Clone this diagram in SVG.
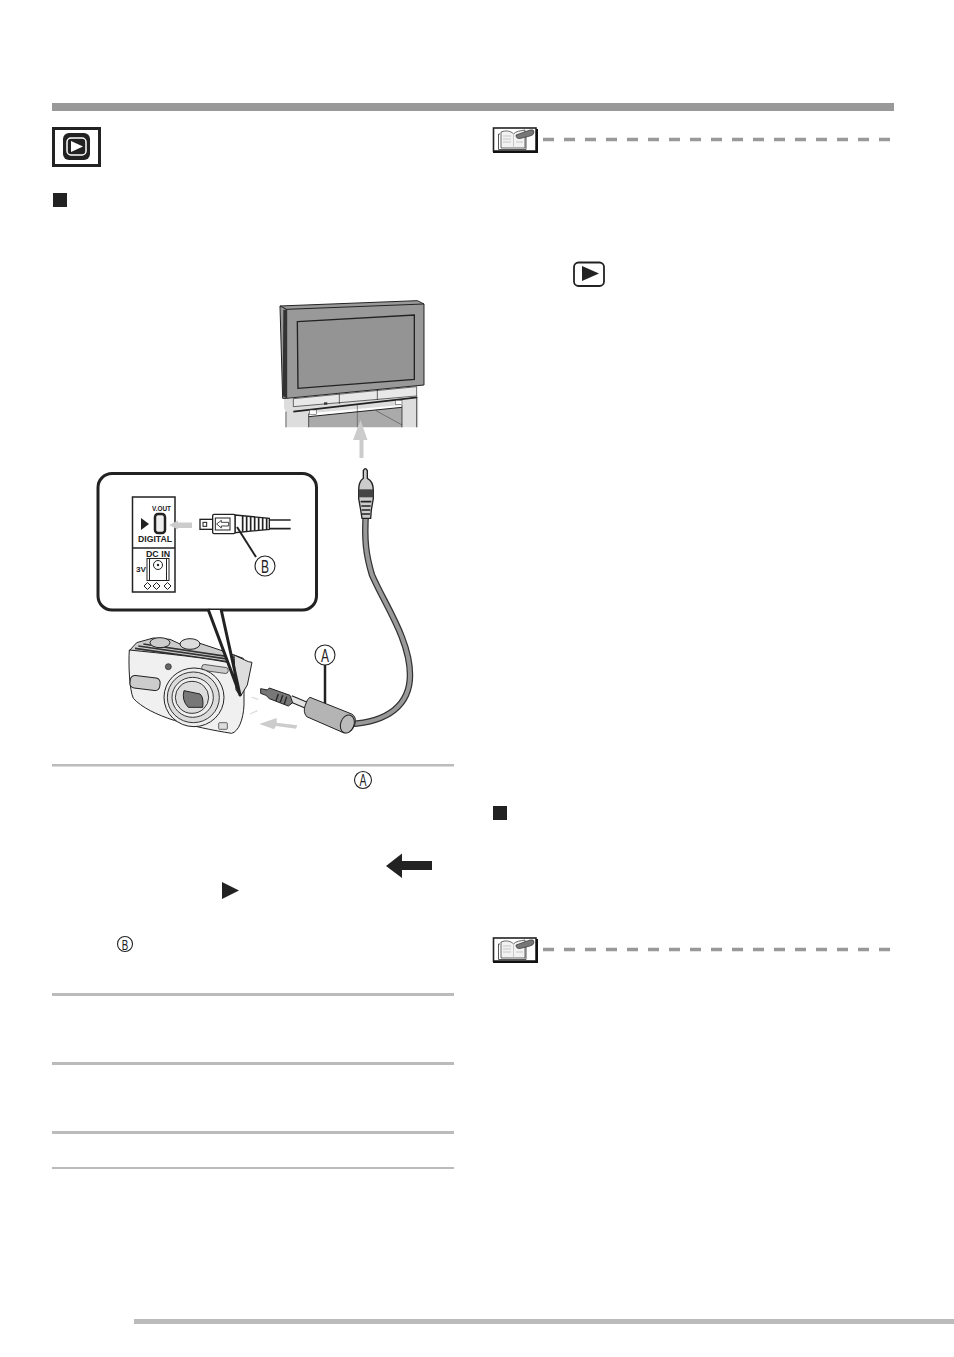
<svg xmlns="http://www.w3.org/2000/svg" width="954" height="1357" viewBox="0 0 954 1357">
<style>
text{font-family:"Liberation Sans",Arial,sans-serif;fill:#222}
.b{font-weight:700}
.lab{font-size:18px;text-anchor:middle}
.ring{fill:#fff;stroke:#222;stroke-width:1.1}
.rule{fill:#bbb}
.dash{fill:none;stroke:#999;stroke-width:3.5;stroke-dasharray:11 10}
.ga{fill:#ccc}
</style>
<defs>
<g id="book">
<rect x="1.500" y="1" width="42.500" height="23" fill="#fff" stroke="#222" stroke-width="1.600"/>
<path d="M1 25H45V2" fill="none" stroke="#111" stroke-width="2"/>
<path d="M9 5C14 3 19 4 21.500 7C24 4 28 4 33 3V21H9Z" fill="#f2f2f2" stroke="#444" stroke-width=".8"/>
<path d="M21.500 7V21M11 9H19M11 12H19M11 15H19M24 9H31M24 15H31" fill="none" stroke="#bbb" stroke-width=".8"/>
<path d="M8 7H6.500V22.500H34V7" fill="none" stroke="#444" stroke-width=".9"/>
<path d="M24 8L38 3Q42 2 42 5Q42 8 38 9L28 11.500Q24 12 24 8Z" fill="#777" stroke="#333" stroke-width=".7"/>
</g>
</defs>

<rect id="top-bar" x="52" y="103" width="842" height="8" fill="#999"/>
<rect id="bottom-bar" x="134" y="1319" width="820" height="5" fill="#bbb"/>
<g id="rules">
<rect class="rule" x="52" y="764" width="402" height="2.500"/>
<rect class="rule" x="52" y="993" width="402" height="3"/>
<rect class="rule" x="52" y="1062" width="402" height="3"/>
<rect class="rule" x="52" y="1131" width="402" height="3"/>
<rect class="rule" x="52" y="1167" width="402" height="2"/>
</g>

<g id="play-icon">
<rect x="53.500" y="128.500" width="46" height="37" fill="#fff" stroke="#222" stroke-width="3"/>
<rect x="63" y="133" width="27" height="27" rx="6" fill="#222"/>
<rect x="67" y="138" width="19" height="17" rx="4" fill="#222" stroke="#fff" stroke-width="1.500"/>
<path d="M71 141L83 146.500L71 152Z" fill="#fff"/>
</g>
<rect id="bullet-1" x="53" y="193" width="14" height="14" fill="#222"/>
<rect id="bullet-2" x="493" y="806" width="14" height="14" fill="#222"/>

<g id="note-1"><use href="#book" x="492" y="127"/><path class="dash" d="M543 139.500H890"/></g>
<g id="note-2"><use href="#book" x="492" y="937"/><path class="dash" d="M543 949.500H890"/></g>

<g id="play-button">
<rect x="574" y="262.500" width="30" height="23.500" rx="4.500" fill="#fff" stroke="#222" stroke-width="1.800"/>
<path d="M582 266L599 273.500L582 281Z" fill="#222"/>
</g>

<g id="tv" transform="translate(270 290) scale(.33333)">
<path d="M42 325H445V412H396V345L116 370V412H50V368L42 355Z" fill="#ddd"/>
<path d="M70 326L440 290V318L70 350Z" fill="#e8e8e8" stroke="#222" stroke-width="2"/>
<path d="M116 380L396 352V412H116Z" fill="#aaa"/>
<path d="M262 345V412M318 362L396 405" stroke="#555" stroke-width="2" fill="none"/>
<path d="M116 380L396 352" stroke="#222" stroke-width="3" fill="none"/>
<path d="M116 370V412M396 345V412M48 365V412M440 320V412" stroke="#333" stroke-width="2.500" fill="none"/>
<path d="M70 365L442 322" stroke="#222" stroke-width="5" fill="none"/>
<rect x="119" y="360" width="20" height="13" fill="#fff" stroke="#333" stroke-width="1.500"/>
<rect x="376" y="331" width="20" height="13" fill="#fff" stroke="#333" stroke-width="1.500"/>
<path d="M208 312V342M322 300V330" stroke="#222" stroke-width="2"/>
<rect x="162" y="337" width="10" height="7" fill="#333"/>
<path d="M30 48L442 32L462 42V285L50 325H38Z" fill="#999" stroke="#222" stroke-width="3" stroke-linejoin="round"/>
<path d="M50 58L462 42M50 58V325" stroke="#222" stroke-width="3" fill="none"/>
<path d="M30 48L50 58" stroke="#222" stroke-width="3"/>
<path d="M40 60L50 58V325L38 318Z" fill="#333"/>
<path d="M82 95L433 75V268L84 295Z" fill="#949494" stroke="#222" stroke-width="4"/>
</g>
<path id="tv-arrow" class="ga" d="M359.500 458V440H353L360.500 420L367.500 440H363.500V458Z"/>

<g id="connectors">
<path d="M350 724C388 722 410 705 410 675C410 640 385 605 372 575C366 555 364 540 366 512" fill="none" stroke="#333" stroke-width="6.500"/>
<path d="M350 724C388 722 410 705 410 675C410 640 385 605 372 575C366 555 364 540 366 512" fill="none" stroke="#999" stroke-width="4"/>
</g>

<g id="rca-plug" transform="translate(270 290) scale(.33333)">
<path d="M280 565V542Q286 530 292 542V565Q310 575 310 600V625L304 660L302 685H276L272 660L266 625V600Q266 575 280 565Z" fill="#ccc" stroke="#222" stroke-width="4"/>
<path d="M266 598H310V622H266Z" fill="#444"/>
<path d="M272 635H304M274 648H302M275 660H301M276 672H300" stroke="#222" stroke-width="5"/>
</g>

<g id="callout">
<rect x="98" y="473.500" width="218.500" height="136.500" rx="14" fill="#fff" stroke="#222" stroke-width="3"/>
</g>
<g id="camera" transform="translate(110 620) scale(.33333)">
<path d="M58 92L80 68L130 54L180 58L210 72L270 70L330 90L400 115L395 150Z" fill="#ccc" stroke="#222" stroke-width="3" stroke-linejoin="round"/>
<path d="M75 85L385 130M85 78L385 122M100 72L390 115" stroke="#333" stroke-width="5"/>
<ellipse cx="240" cy="72" rx="30" ry="16" fill="#ddd" stroke="#222" stroke-width="3"/>
<ellipse cx="150" cy="68" rx="30" ry="15" fill="#ccc" stroke="#222" stroke-width="3"/>
<path d="M58 90C150 100 300 112 402 138L402 255C400 300 385 335 365 340C250 322 120 290 70 235C58 210 55 130 58 90Z" fill="#f0f0f0" stroke="#222" stroke-width="3"/>
<path d="M372 105L415 125L426 127L412 195L392 228L378 210Z" fill="#ddd" stroke="#222" stroke-width="3" stroke-linejoin="round"/>
<circle cx="175" cy="140" r="9" fill="#666" stroke="#222" stroke-width="2"/>
<rect x="60" y="170" width="90" height="38" rx="14" transform="rotate(7 105 190)" fill="#ccc" stroke="#222" stroke-width="3"/>
<rect x="275" y="138" width="80" height="18" rx="8" transform="rotate(8 315 147)" fill="#ccc" stroke="#222" stroke-width="2"/>
<ellipse cx="252" cy="232" rx="90" ry="88" fill="#eee" stroke="#222" stroke-width="3"/>
<ellipse cx="250" cy="232" rx="78" ry="76" fill="#ddd" stroke="#333" stroke-width="3"/>
<ellipse cx="248" cy="232" rx="62" ry="60" fill="#eee" stroke="#333" stroke-width="3"/>
<ellipse cx="246" cy="232" rx="50" ry="48" fill="#ddd" stroke="#333" stroke-width="3"/>
<path d="M222 212L270 222Q282 232 278 262L235 262Q214 240 222 212Z" fill="#777" stroke="#222" stroke-width="3"/>
<rect x="326" y="308" width="26" height="20" rx="3" fill="#ddd" stroke="#222" stroke-width="2"/>
<path d="M425 232L445 238M420 282L442 272" stroke="#ddd" stroke-width="4"/>
</g>
<g id="usb-plug" transform="translate(110 620) scale(.33333)">
<path class="ga" d="M448 312L500 294V308L562 316L558 326L498 318L492 328Z"/>
<path d="M542 236L590 256" stroke="#222" stroke-width="22"/>
<path d="M542 236L590 256" stroke="#e4e4e4" stroke-width="15"/>
<path d="M452 206L472 210L478 204L540 226L548 248L535 258L478 236L468 226L452 220Z" fill="#777" stroke="#222" stroke-width="3"/>
<path d="M505 222L498 242M518 226L511 247M530 230L523 252" stroke="#222" stroke-width="4"/>
<path d="M600 232L725 282Q740 290 735 312Q725 342 700 338L590 290Q578 275 586 255Q592 235 600 232Z" fill="#b4b4b4" stroke="#222" stroke-width="3"/>
<ellipse cx="712" cy="312" rx="20" ry="28" transform="rotate(20 712 312)" fill="#bbb" stroke="#222" stroke-width="3"/>
</g>
<path id="callout-tail" d="M208 610L240 695L221 610Z" fill="#fff" stroke="none"/>
<path id="callout-tail-edges" d="M208 609L240 695L221 609" fill="none" stroke="#222" stroke-width="3" stroke-linejoin="round"/>

<g id="port-panel">
<path d="M132.500 497H175V592H132.500Z" fill="#fff" stroke="#222" stroke-width="1.500"/>
<path d="M132 548H175" stroke="#222" stroke-width="1.500"/>
<text class="b" x="152" y="511" font-size="8" textLength="19" lengthAdjust="spacingAndGlyphs">V.OUT</text>
<rect x="155" y="514" width="10" height="19" rx="3" fill="#eee" stroke="#222" stroke-width="2.500"/>
<path d="M141 518L149 524L141 530Z" fill="#222"/>
<text class="b" x="138" y="542" font-size="9" textLength="34" lengthAdjust="spacingAndGlyphs">DIGITAL</text>
<rect x="147" y="558.500" width="22" height="22" fill="#fff" stroke="#222" stroke-width="1"/>
<rect x="149.500" y="558.500" width="17" height="22" fill="none" stroke="#222" stroke-width="1"/>
<text class="b" x="146" y="556.500" font-size="9" textLength="24" lengthAdjust="spacingAndGlyphs">DC IN</text>
<text class="b" x="136" y="572" font-size="8" textLength="10" lengthAdjust="spacingAndGlyphs">3V</text>
<circle cx="158" cy="565" r="4.500" fill="#fff" stroke="#222" stroke-width="1"/>
<circle cx="158" cy="565" r="1.200" fill="#222"/>
<path d="M144 586L147.500 582.500L151 586L147.500 589.500ZM153 586L156.500 582.500L160 586L156.500 589.500ZM164 586L167.500 582.500L171 586L167.500 589.500Z" fill="#fff" stroke="#222" stroke-width="1"/>
</g>
<path id="port-arrow" class="ga" d="M169 525L178 520.500V522.500H192V528H178V529.500Z"/>
<g id="mini-plug" transform="translate(40 460) scale(.33333)">
<path d="M690 180H752M690 206H752" stroke="#222" stroke-width="5"/>
<rect x="480" y="178" width="38" height="30" fill="#fff" stroke="#222" stroke-width="4"/>
<rect x="489" y="187" width="11" height="12" fill="#fff" stroke="#222" stroke-width="3"/>
<path d="M585 165L688 175V208L585 218Z" fill="#fff" stroke="#222" stroke-width="4"/>
<path d="M608 168V215M620 169V214M632 170V213M644 171V212M656 172V211M668 173V210M680 174V209" stroke="#222" stroke-width="5"/>
<rect x="518" y="163" width="67" height="58" rx="4" fill="#fff" stroke="#222" stroke-width="4"/>
<rect x="526" y="174" width="44" height="36" fill="#fff" stroke="#222" stroke-width="3"/>
<path d="M530 192L544 181V187H566V198H544V204Z" fill="#fff" stroke="#222" stroke-width="2.500"/>
</g>

<g id="label-a"><circle class="ring" cx="325" cy="655" r="10"/><text class="lab" x="325" y="661.500" textLength="8" lengthAdjust="spacingAndGlyphs">A</text></g>
<g id="label-b"><circle class="ring" cx="265" cy="566" r="10"/><text class="lab" x="265" y="572.500" textLength="8" lengthAdjust="spacingAndGlyphs">B</text></g>
<g id="ref-a"><circle class="ring" cx="363" cy="780" r="8.500"/><text x="363" y="786" font-size="16" text-anchor="middle" textLength="7" lengthAdjust="spacingAndGlyphs">A</text></g>
<g id="ref-b"><circle class="ring" cx="125" cy="944" r="7.500"/><text x="125" y="949.500" font-size="15" text-anchor="middle" textLength="6.500" lengthAdjust="spacingAndGlyphs">B</text></g>

<path id="big-arrow" d="M386 866L402 853.500V861H432V870H402V878Z" fill="#222"/>
<path id="small-tri" d="M222 882L239 890.500L222 899Z" fill="#222"/>

<g id="leaders">
<path id="a-leader" d="M325 665V703" stroke="#222" stroke-width="2.500"/>
<path id="b-leader" d="M237 527L256 557" stroke="#222" stroke-width="2"/>
</g>
</svg>
